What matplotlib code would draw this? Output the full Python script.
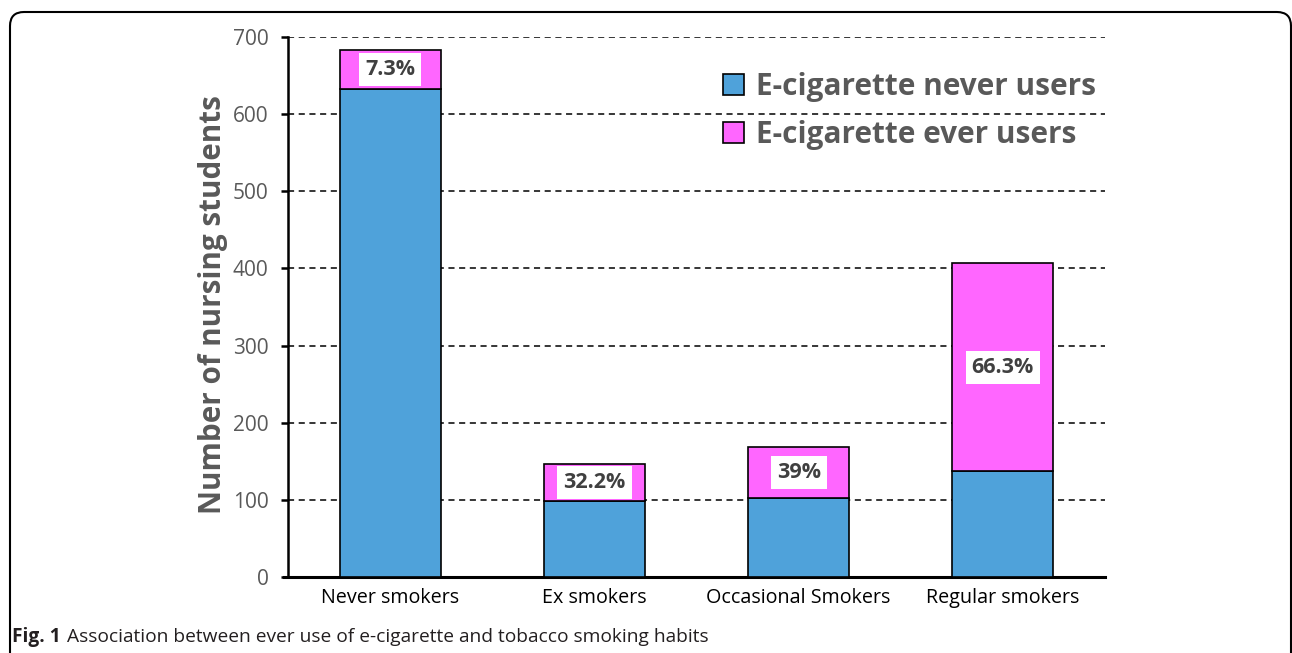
import matplotlib
matplotlib.use("Agg")
import matplotlib.pyplot as plt
import numpy as np
from matplotlib.patches import FancyBboxPatch, Patch
from matplotlib.transforms import IdentityTransform

categories = ["Never smokers", "Ex smokers", "Occasional Smokers", "Regular smokers"]
never_users = [633, 99, 103, 137]
ever_users = [50, 47, 66, 270]
pct_labels = ["7.3%", "32.2%", "39%", "66.3%"]
yticks = [0, 100, 200, 300, 400, 500, 600, 700]

FONT = "Open Sans"
plt.rcParams['font.family'] = [FONT, 'DejaVu Sans']

W, H = 1292, 653
fig = plt.figure(figsize=(W / 100, H / 100), dpi=100)
ax = fig.add_axes([288 / W, (H - 577) / H, (1105 - 288) / W, 540 / H])

blue = "#4FA2DA"
pink = "#FF66FF"
x = np.arange(len(categories))
bw = 0.495
ax.bar(x, never_users, bw, color=blue, edgecolor="black", linewidth=1.2, zorder=3,
       label="E-cigarette never users")
ax.bar(x, ever_users, bw, bottom=never_users, color=pink, edgecolor="black", linewidth=1.2,
       zorder=3, label="E-cigarette ever users")

for xi, nv, ev, lab in zip(x, never_users, ever_users, pct_labels):
    ax.text(xi, nv + ev / 2, lab, ha="center", va="center", fontsize=15.5, fontweight="bold",
            color="#404040", zorder=5,
            bbox=dict(boxstyle="square,pad=0.28", fc="white", ec="none"))

ax.set_xlim(-0.5, 3.5)
ax.set_ylim(0, 700)
ax.set_yticks(yticks)
ax.set_xticks(x)
ax.set_xticklabels(categories, fontsize=14.2, color="black")
ax.tick_params(axis="x", length=0, pad=8)
ax.tick_params(axis="y", direction="out", length=5, width=1.8, colors="black",
               labelcolor="#595959", labelsize=15, pad=9)
ax.yaxis.grid(True, linestyle=(0, (4, 3)), color="black", linewidth=1.1, zorder=0)
ax.set_axisbelow(True)
for s in ["top", "right"]:
    ax.spines[s].set_visible(False)
ax.spines["left"].set_linewidth(1.8)
ax.spines["bottom"].set_linewidth(2.2)
ax.spines["bottom"].set_bounds(-0.52, 3.5)
ax.set_ylabel("Number of nursing students", fontsize=21.3, fontweight="bold", color="#595959")
ax.yaxis.set_label_coords(-0.073, 0.505)

handles = [Patch(facecolor=blue, edgecolor="black", linewidth=1.2),
           Patch(facecolor=pink, edgecolor="black", linewidth=1.2)]
leg = fig.legend(handles, ["E-cigarette never users", "E-cigarette ever users"],
                 loc="upper left", bbox_to_anchor=(708 / W, 1 - 57 / H), frameon=False,
                 prop=dict(family=FONT, size=21.4, weight="bold"), labelcolor="#595959",
                 handlelength=0.7, handleheight=0.7, handletextpad=0.4, labelspacing=0.6,
                 borderpad=0)

# caption
t1 = fig.text(12 / W, 1 - 637 / H, "Fig. 1", fontsize=13.8, fontweight="bold", color="#231F20",
              va="center", ha="left")
fig.canvas.draw()
bb = t1.get_window_extent(fig.canvas.get_renderer())
fig.text((bb.x1 + 6) / W, 1 - 637 / H,
         "Association between ever use of e-cigarette and tobacco smoking habits",
         fontsize=13.8, color="#231F20", va="center", ha="left")

frame = FancyBboxPatch((10, -40), 1281, H - 12 + 40, boxstyle="round,pad=0,rounding_size=14",
                       transform=IdentityTransform(), fill=False, edgecolor="black", linewidth=1.5)
fig.add_artist(frame)

fig.savefig("out.png", dpi=100)
